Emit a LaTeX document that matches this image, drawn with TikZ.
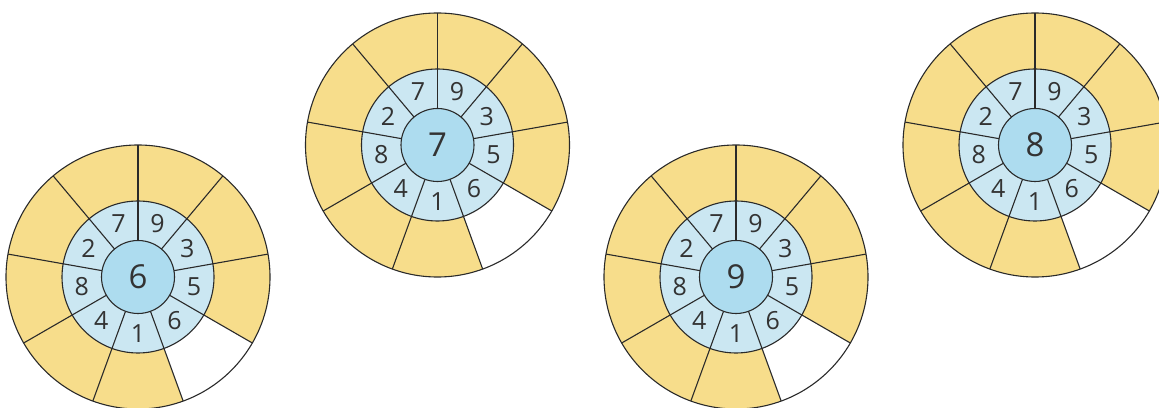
\documentclass[tikz,border=0pt]{standalone}
\usepackage{fontspec}
\setmainfont{Open Sans}
\definecolor{wyellow}{HTML}{F7DD8B}
\definecolor{wlight}{HTML}{CBE7F2}
\definecolor{wblue}{HTML}{ADDCEF}
\definecolor{wline}{HTML}{2A2A2A}
\definecolor{wtext}{HTML}{333333}
\tikzset{
  ringline/.style={draw=wline, line width=1.1pt},
  ringnum/.style={text=wtext, font=\fontsize{25}{25}\selectfont, inner sep=0pt},
  hubnum/.style={text=wtext, font=\fontsize{33}{33}\selectfont, inner sep=0pt},
}
\newcommand{\drawwheel}[4]{% #1 name, #2 x, #3 y, #4 hub number
  \begin{scope}[shift={(#2,#3)}]
    \fill[wyellow] (0,0) circle (132);
    \fill[white] (0,0) -- (-30:133) arc (-30:-70:133) -- cycle;
    \fill[wlight] (0,0) circle (76);
    \foreach \a in {90,50,10,-30,-70,-110,-150,170,130}
      \draw[ringline] (\a:36.5) -- (\a:132);
    \draw[ringline] (0,0) circle (132);
    \draw[ringline] (0,0) circle (76);
    \draw[ringline, fill=wblue] (0,0) circle (36.5);
    \node[hubnum] (#1hub) at (0,0) {#4};
    \foreach \n/\a in {9/70, 3/30, 5/-10, 6/-50, 1/-90, 4/-130, 8/-170, 2/150, 7/110}
      \node[ringnum] (#1n\n) at (\a:57) {\n};
  \end{scope}
}
\begin{document}
\begin{tikzpicture}[x=1pt,y=1pt]
  \useasboundingbox (0,0) rectangle (1159,407);
  \clip (0,0) rectangle (1159,407);
  \drawwheel{wa}{138}{130}{6}
  \drawwheel{wb}{437.5}{262}{7}
  \drawwheel{wc}{736}{130}{9}
  \drawwheel{wd}{1035}{262}{8}
\end{tikzpicture}
\end{document}
